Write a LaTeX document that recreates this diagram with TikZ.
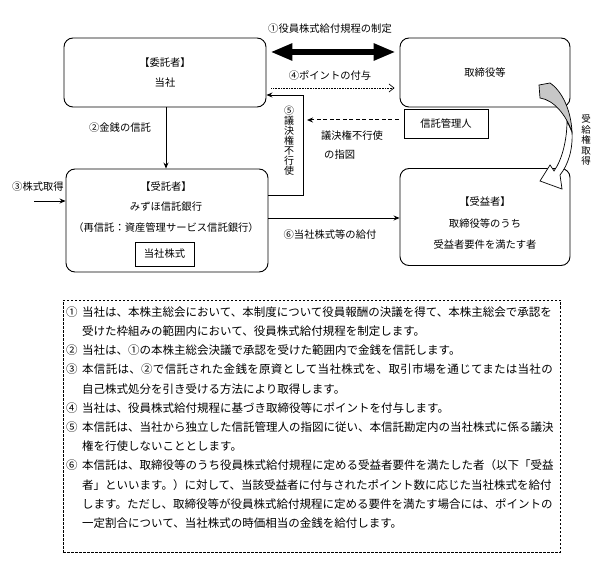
\documentclass[tikz,border=0pt]{standalone}
\usepackage{fontspec}
\setmainfont{Noto Sans CJK JP}
\usetikzlibrary{arrows.meta}
\begin{document}
\begin{tikzpicture}[x=1pt,y=-1pt,
  box/.style={draw, line width=0.9pt, rounded corners=9pt, inner sep=0pt},
  sbox/.style={draw, line width=0.9pt, inner sep=0pt},
  lbl/.style={font=\fontsize{10.3}{12}\selectfont, inner sep=0pt},
  vlbl/.style={font=\fontsize{10}{10}\selectfont, inner sep=0pt, align=center},
  txt/.style={font=\fontsize{11.5}{13}\selectfont, inner sep=0pt, anchor=west, text height=10pt, text depth=1.5pt},
  arr/.style={line width=0.8pt, -{Stealth[length=6pt,width=5pt]}},
]
\useasboundingbox (0,0) rectangle (610,577);
% boxes
\node[box, minimum width=202pt, minimum height=69pt] (itaku) at (165,72.5) {};
\node[box, minimum width=170pt, minimum height=69pt] (tori) at (485,72.5) {};
\node[box, minimum width=202pt, minimum height=103pt] (jutaku) at (167,220.5) {};
\node[box, minimum width=170pt, minimum height=97pt] (jueki) at (485,217) {};
\node[sbox, minimum width=84pt, minimum height=29pt, lbl] (kanri) at (446,123.5) {信託管理人};
\node[sbox, minimum width=59pt, minimum height=24pt, lbl] (kabu) at (164.5,254) {当社株式};
% box texts
\node[lbl] (t1) at (165,63) {【委託者】};
\node[lbl] (t2) at (165,83) {当社};
\node[lbl] (t3) at (485,73) {取締役等};
\node[lbl] (t4) at (166,187) {【受託者】};
\node[lbl] (t5) at (166,207) {みずほ信託銀行};
\node[lbl] (t6) at (166,228) {（再信託：資産管理サービス信託銀行）};
\node[lbl] (t7) at (485,202) {【受益者】};
\node[lbl] (t8) at (485,224) {取締役等のうち};
\node[lbl] (t9) at (485,245) {受益者要件を満たす者};
% coordinates
\coordinate (y52) at (0,52);
\coordinate (y88) at (0,88);
\coordinate (y195) at (0,195);
\coordinate (y120) at (0,120);
\coordinate (y218) at (0,218);
\coordinate (x166) at (166,0);
\coordinate (c5) at (303,95);
\coordinate (d6) at (307,120);
\coordinate (in3) at (34,201);
% (1) double arrow
\draw[line width=5.5pt, shorten <=4pt, shorten >=4pt,
  {Triangle[length=22pt,width=16pt]}-{Triangle[length=22pt,width=16pt]}]
  (itaku.east |- y52) -- (tori.west |- y52);
\node[lbl] (l1) at (330,29) {①役員株式給付規程の制定};
% (4) dotted arrow
\draw[line width=0.7pt, dash pattern=on 0.7pt off 0.9pt, shorten <=5pt, shorten >=5pt,
  -{Straight Barb[length=5pt,width=8pt]}] (itaku.east |- y88) -- (tori.west |- y88);
\node[lbl] (l4) at (330,76) {④ポイントの付与};
% (5)
\draw[arr] (jutaku.east |- y195) -| (c5) -- (itaku.east |- c5);
\node[vlbl] (l5) at (289,141) {⑤\\議\\決\\権\\不\\行\\使};
% dashed instruction arrow
\draw[line width=1pt, dash pattern=on 4pt off 2.5pt, shorten <=5pt,
  -{Stealth[length=6pt,width=5pt]}] (kanri.west |- y120) -- (d6);
\node[lbl] (l5a) at (352,136) {議決権不行使};
\node[lbl, anchor=west] (l5b) at (324,155) {の指図};
% (2)
\draw[arr] (itaku.south -| x166) -- (jutaku.north -| x166);
\node[lbl] (l2) at (120,128) {②金銭の信託};
% (3)
\draw[arr] (in3) -- (jutaku.west |- in3);
\node[lbl] (l3) at (38,187) {③株式取得};
% (6)
\draw[arr] (jutaku.east |- y218) -- (jueki.west |- y218);
\node[lbl] (l6) at (330,235) {⑥当社株式等の給付};
% curved arrow (受給権取得)
\filldraw[fill=white, line width=0.7pt]
  (572,132) .. controls (573,150) and (568,165) .. (560,175)
  -- (562,189) -- (540,181) -- (550,165) -- (554,171)
  .. controls (562,160) and (567,140) .. (567,121)
  -- cycle;
\filldraw[fill=black!22, line width=0.7pt]
  (539,85) -- (550,83) .. controls (562,91) and (571,110) .. (572,132)
  .. controls (566,115) and (554,100) .. (540,98) -- cycle;
\node[font=\fontsize{9.5}{10.5}\selectfont, inner sep=0pt, align=center] (lr) at (586,140) {受\\給\\権\\取\\得};
% notes box
\node[draw, line width=0.7pt, dash pattern=on 2.5pt off 1.5pt, minimum width=497pt, minimum height=252pt, inner sep=0pt] (notes) at (311.5,426) {};
\foreach \n/\yy in {①/312, ②/350.4, ③/369.6, ④/408, ⑤/427.2, ⑥/465.6}{
  \node[txt] at (66,\yy) {\n};
}
\node[txt] (n1) at (82,312) {当社は、本株主総会において、本制度について役員報酬の決議を得て、本株主総会で承認を};
\node[txt] (n2) at (82,331.2) {受けた枠組みの範囲内において、役員株式給付規程を制定します。};
\node[txt] (n3) at (82,350.4) {当社は、①の本株主総会決議で承認を受けた範囲内で金銭を信託します。};
\node[txt] (n4) at (82,369.6) {\addfontfeature{LetterSpace=2.56}本信託は、②で信託された金銭を原資として当社株式を、取引市場を通じてまたは当社の};
\node[txt] (n5) at (82,388.8) {自己株式処分を引き受ける方法により取得します。};
\node[txt] (n6) at (82,408) {当社は、役員株式給付規程に基づき取締役等にポイントを付与します。};
\node[txt] (n7) at (82,427.2) {本信託は、当社から独立した信託管理人の指図に従い、本信託勘定内の当社株式に係る議決};
\node[txt] (n8) at (82,446.4) {権を行使しないこととします。};
\node[txt] (n9) at (82,465.6) {本信託は、取締役等のうち役員株式給付規程に定める受益者要件を満たした者（以下「受益};
\node[txt] (n10) at (82,484.8) {者」といいます。）に対して、当該受益者に付与されたポイント数に応じた当社株式を給付};
\node[txt] (n11) at (82,504) {します。ただし、取締役等が役員株式給付規程に定める要件を満たす場合には、ポイントの};
\node[txt] (n12) at (82,523.2) {一定割合について、当社株式の時価相当の金銭を給付します。};
\end{tikzpicture}
\end{document}
